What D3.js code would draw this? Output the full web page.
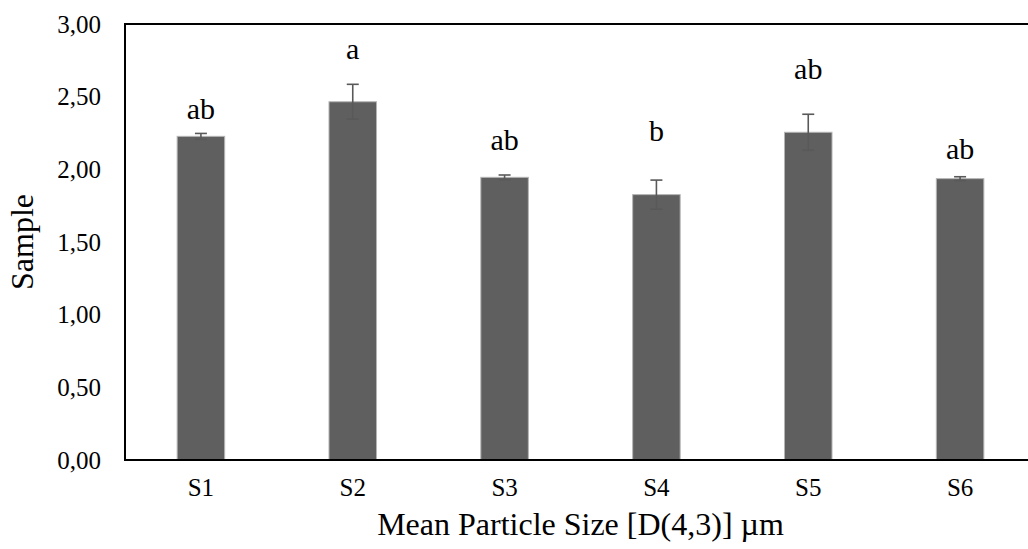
<!DOCTYPE html>
<html>
<head>
<meta charset="utf-8">
<script src="https://cdn.jsdelivr.net/npm/d3@7"></script>
<style>
  body { margin: 0; background: #fff; }
  text { font-family: "Liberation Serif", "Times New Roman", serif; fill: #000; }
</style>
</head>
<body>
<div id="chart"></div>
<script>
var samples = ['S1', 'S2', 'S3', 'S4', 'S5', 'S6']
var means   = [2.227, 2.465, 1.945, 1.826, 2.255, 1.936]
var errs    = [0.02, 0.12, 0.016, 0.10, 0.124, 0.013]
var letters = ['ab', 'a', 'ab', 'b', 'ab', 'ab']
// letters sit at these values
var letterAt = [2.346, 2.759, 2.133, 2.197, 2.622, 2.071]
var yTicks  = [0, 0.5, 1, 1.5, 2, 2.5, 3]

var data = samples.map(function(s, i){
  return {name: s, mean: means[i], err: errs[i], letter: letters[i], at: letterAt[i]}
})

var W = 1028, H = 549
var pLeft = 125, pTop = 24, pBottom = 460, pRight = 1036

var svg = d3.select('#chart').append('svg')
  .attr('width', W).attr('height', H)

var x = d3.scaleBand().domain(samples).range([pLeft, pRight])
  .paddingInner(0.687).paddingOuter(0.687 / 2)
var y = d3.scaleLinear().domain([0, 3]).range([pBottom, pTop])

var fmt = function(d){ return d3.format('.2f')(d).replace('.', ',') }

// bars
svg.selectAll('rect.bar').data(data).enter().append('rect')
  .attr('class', 'bar')
  .attr('x', function(d){ return x(d.name) })
  .attr('y', function(d){ return y(d.mean) })
  .attr('width', x.bandwidth())
  .attr('height', function(d){ return y(0) - y(d.mean) })
  .attr('fill', '#5f5f5f')
  .attr('stroke', '#b5b5b5')
  .attr('stroke-width', 1)

// error bars
var eb = svg.selectAll('g.err').data(data).enter().append('g')
  .attr('transform', function(d){ return 'translate(' + (x(d.name) + x.bandwidth() / 2) + ',0)' })
  .attr('stroke', '#595959').attr('stroke-width', 1.6)
eb.append('line')
  .attr('y1', function(d){ return y(d.mean - d.err) })
  .attr('y2', function(d){ return y(d.mean + d.err) })
eb.append('line')
  .attr('x1', -6).attr('x2', 6)
  .attr('y1', function(d){ return y(d.mean + d.err) })
  .attr('y2', function(d){ return y(d.mean + d.err) })
eb.append('line')
  .attr('x1', -6).attr('x2', 6)
  .attr('y1', function(d){ return y(d.mean - d.err) })
  .attr('y2', function(d){ return y(d.mean - d.err) })

// significance letters
svg.selectAll('text.letter').data(data).enter().append('text')
  .attr('x', function(d){ return x(d.name) + x.bandwidth() / 2 })
  .attr('y', function(d){ return y(d.at) })
  .attr('text-anchor', 'middle')
  .style('font-size', '30px')
  .text(function(d){ return d.letter })

// frame: left, top, bottom
svg.append('path')
  .attr('d', 'M' + pRight + ',' + pTop + 'H' + pLeft + 'V' + pBottom + 'H' + pRight)
  .attr('fill', 'none').attr('stroke', '#000').attr('stroke-width', 2)

// y axis labels
var yAxis = d3.axisLeft(y).tickValues(yTicks).tickFormat(fmt).tickSize(0).tickPadding(24)
var gy = svg.append('g').attr('transform', 'translate(' + pLeft + ',0)').call(yAxis)
gy.select('.domain').remove()
gy.selectAll('text').style('font-size', '25px').attr('fill', '#000')

// x axis labels
var xAxis = d3.axisBottom(x).tickSize(0).tickPadding(18)
var gx = svg.append('g').attr('transform', 'translate(0,' + pBottom + ')').call(xAxis)
gx.select('.domain').remove()
gx.selectAll('text').style('font-size', '25px').attr('fill', '#000')

// axis titles
svg.append('text')
  .attr('x', (pLeft + pRight) / 2).attr('y', 535)
  .attr('text-anchor', 'middle')
  .style('font-size', '32px')
  .text('Mean Particle Size [D(4,3)] µm')

svg.append('text')
  .attr('transform', 'translate(33,' + (pTop + pBottom) / 2 + ') rotate(-90)')
  .attr('text-anchor', 'middle')
  .style('font-size', '32px')
  .text('Sample')
</script>
</body>
</html>
